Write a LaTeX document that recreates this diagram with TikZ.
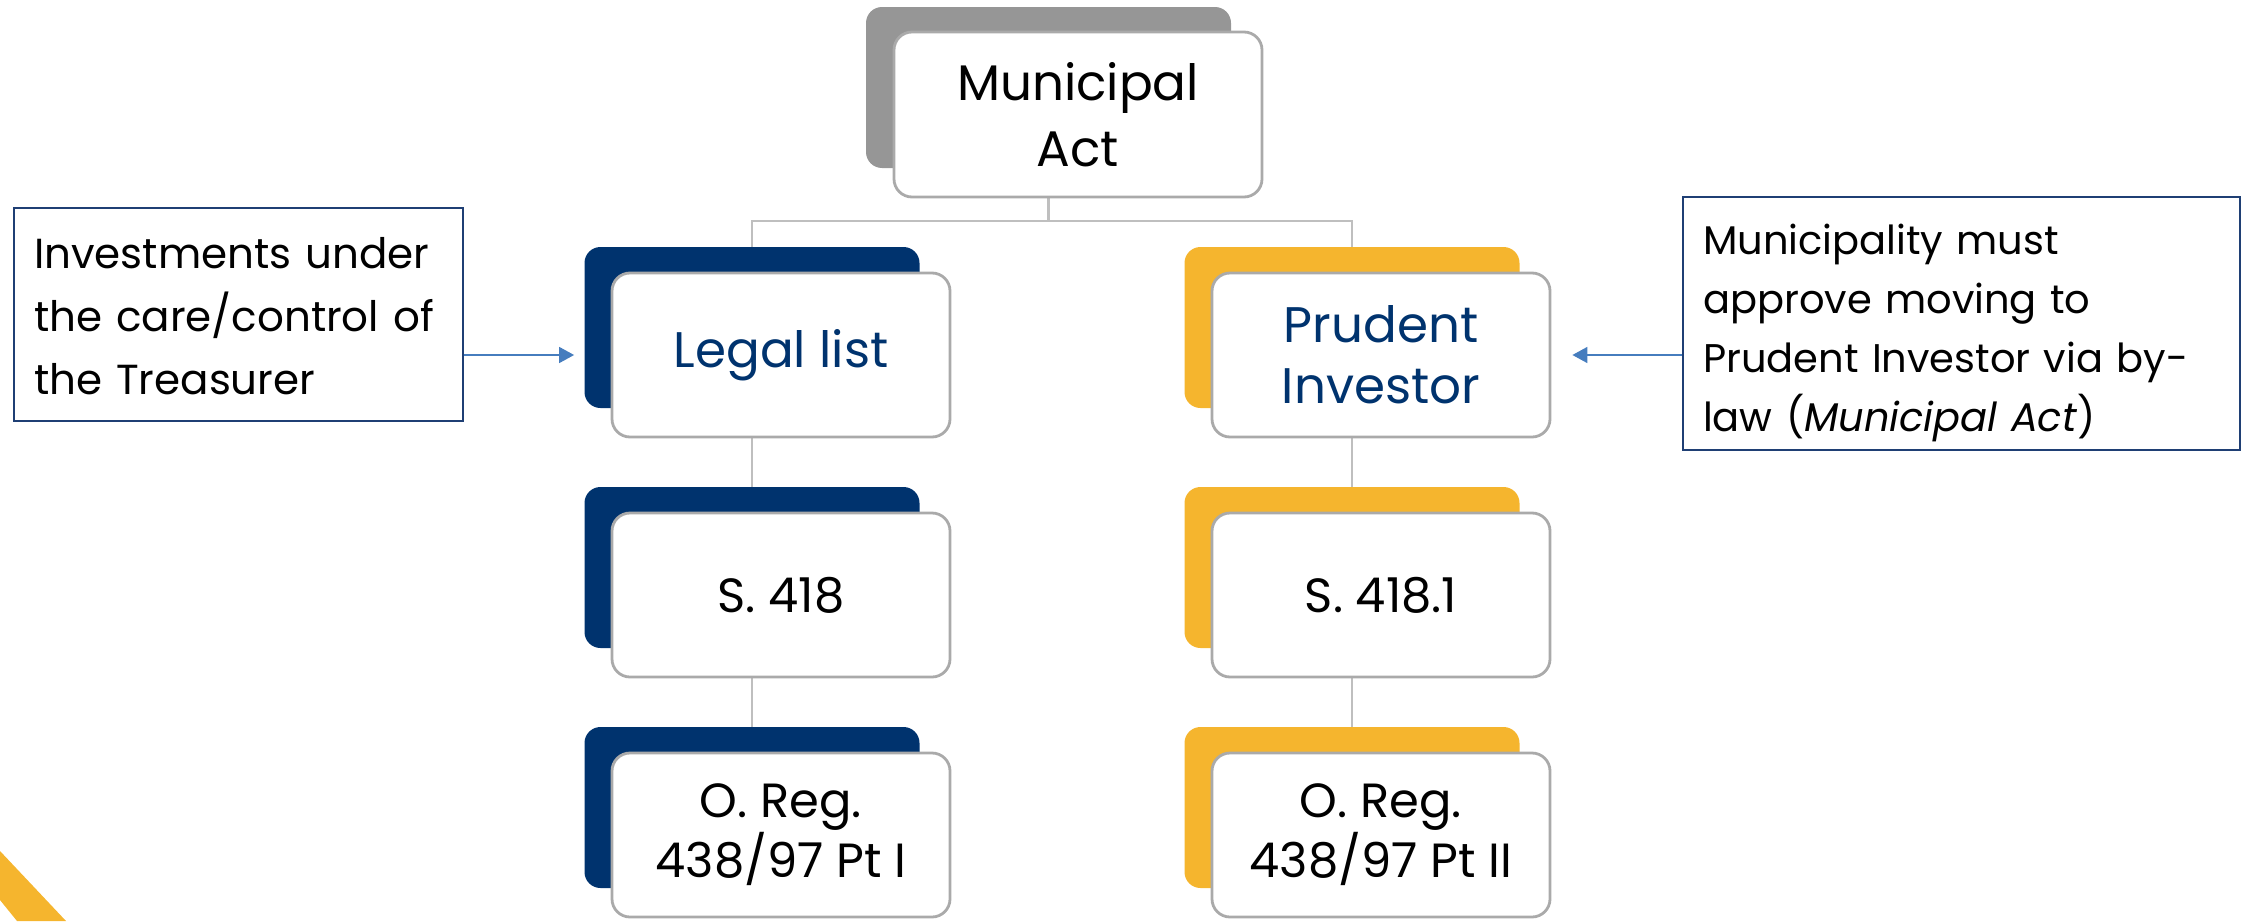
\documentclass[tikz,border=0pt]{standalone}
\usepackage{fontspec}
\setmainfont{Poppins}
\usetikzlibrary{arrows.meta,backgrounds,calc}
\definecolor{navy}{RGB}{0,51,110}
\definecolor{gold}{RGB}{245,181,46}
\definecolor{slate}{RGB}{150,150,150}
\definecolor{rim}{RGB}{170,170,170}
\definecolor{link}{RGB}{191,191,191}
\definecolor{notefrm}{RGB}{31,63,116}
\definecolor{pointer}{RGB}{70,125,190}

\begin{document}
\begin{tikzpicture}[x=0.5pt,y=-0.5pt,
  backcard/.style={rounded corners=8pt, minimum width=167.5pt, minimum height=80.5pt, inner sep=0pt},
  frontcard/.style={draw=rim, line width=1.4pt, fill=white, rounded corners=9pt,
    minimum width=169pt, minimum height=82pt, inner sep=0pt, align=center,
    font=\fontsize{24}{30}\selectfont},
  noteframe/.style={draw=notefrm, line width=0.8pt, fill=white, inner sep=0pt},
  notetext/.style={inner sep=0pt, align=left},
  pointerline/.style={draw=pointer, line width=0.8pt, -{Triangle[length=7.5pt,width=8pt]}},
  linkline/.style={draw=link, line width=1.3pt}
]
\useasboundingbox (0,0) rectangle (2253,921);

% corner accent stripe
\fill[gold] (0,851) -- (66,921) -- (17,921) -- (0,900) -- cycle;

% root card
\node[backcard, fill=slate, minimum width=182.5pt] (actB) at (1048.5,87.5) {};
\node[frontcard, minimum width=184pt, minimum height=82.5pt, font=\fontsize{25}{33}\selectfont] (act) at (1078,114.5) {Municipal\\Act};

% legal list branch
\node[backcard, fill=navy] (legalB) at (752,327.5) {};
\node[frontcard, text=navy, font=\fontsize{25}{31}\selectfont] (legal) at (781,355) {Legal list};
\node[backcard, fill=navy] (sA_B) at (752,567.5) {};
\node[frontcard] (sA) at (781,595) {S. 418};
\node[backcard, fill=navy] (regA_B) at (752,807.5) {};
\node[frontcard] (regA) at (781,835) {O. Reg.\\438/97 Pt I};

% prudent investor branch
\node[backcard, fill=gold] (prudB) at (1352,327.5) {};
\node[frontcard, text=navy, font=\fontsize{25}{30.5}\selectfont] (prud) at (1381,355) {Prudent\\Investor};
\node[backcard, fill=gold] (sB_B) at (1352,567.5) {};
\node[frontcard] (sB) at (1381,595) {S. 418.1};
\node[backcard, fill=gold] (regB_B) at (1352,807.5) {};
\node[frontcard] (regB) at (1381,835) {O. Reg.\\438/97 Pt II};

% side notes: frame, then left-aligned text inside it
\node[noteframe, minimum width=224.5pt, minimum height=106.5pt] (noteL) at (238.5,314.5) {};
\node[notetext, text width=204.5pt, font=\fontsize{21}{31.5}\selectfont]
  (noteLtext) at ([yshift=-1pt]noteL.center)
  {Investments under\\the care/control of\\the Treasurer};
\node[noteframe, minimum width=278.5pt, minimum height=126.5pt] (noteR) at (1961.5,323.5) {};
\node[notetext, text width=258.5pt, font=\fontsize{20}{29.5}\selectfont]
  (noteRtext) at ([yshift=-4.5pt]noteR.center)
  {Municipality must\\approve moving to\\Prudent Investor via by-\\law (\textit{Municipal Act})};

\draw[pointerline, shorten >=5pt] (noteL.east |- legal.center) -- (legalB.west |- legal.center);
\draw[pointerline, shorten >=10.5pt] (noteR.west |- prud.center) -- (prud.east |- prud.center);

% tree connectors
\coordinate (bar) at (0,221);
\begin{pgfonlayer}{background}
  \draw[linkline] (actB.south) -- (actB.south |- bar);
  \draw[linkline] (legalB.north) -- (legalB.north |- bar) -- (prudB.north |- bar) -- (prudB.north);
  \draw[linkline] (legalB.south) -- (sA_B.north);
  \draw[linkline] (sA_B.south) -- (regA_B.north);
  \draw[linkline] (prudB.south) -- (sB_B.north);
  \draw[linkline] (sB_B.south) -- (regB_B.north);
\end{pgfonlayer}
\end{tikzpicture}
\end{document}
